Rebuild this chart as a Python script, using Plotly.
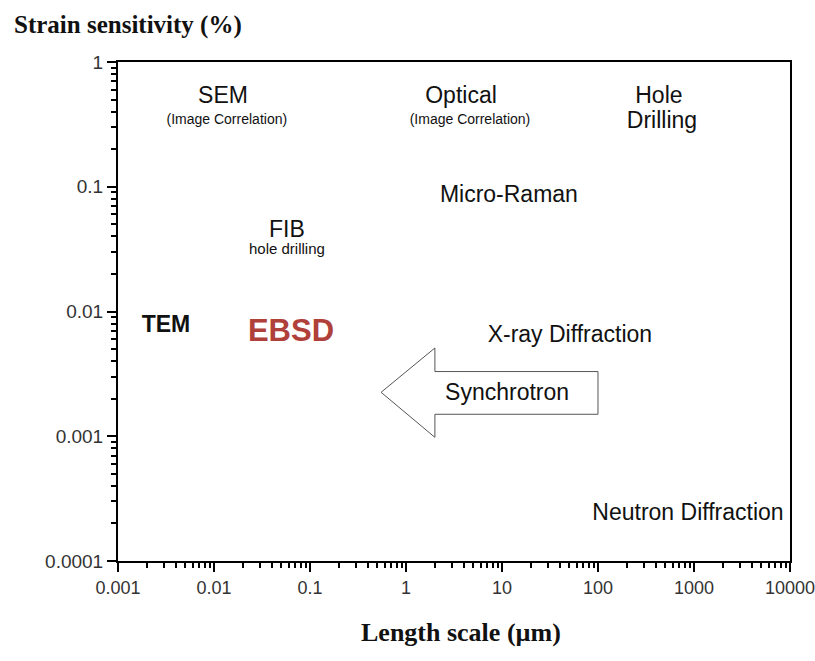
import plotly.graph_objects as go

# Measurement techniques placed by length scale (µm) and strain sensitivity (%)
technique_labels = [
    "SEM", "(Image Correlation)",
    "Optical", "(Image Correlation)",
    "Hole", "Drilling",
    "Micro-Raman",
    "FIB", "hole drilling",
    "TEM", "EBSD",
    "X-ray Diffraction",
    "Synchrotron",
    "Neutron Diffraction",
]
length_scale_um = [0.0124, 0.0136, 3.74, 4.64, 431, 464, 11.8, 0.0575, 0.0575,
                   0.00316, 0.0634, 51, 11.3, 866]
strain_sensitivity = [0.525, 0.337, 0.525, 0.337, 0.525, 0.331, 0.0832, 0.0437, 0.0308,
                      0.00759, 0.00667, 0.0063, 0.00217, 0.000238]
label_sizes = [23, 14, 23, 14, 23, 23, 23, 23, 15, 23, 31, 23, 23, 23]
label_colors = ["#111111"] * 10 + ["#b0403a"] + ["#111111"] * 3
label_weights = ["normal"] * 9 + ["bold", "bold"] + ["normal"] * 3

# Synchrotron arrow outline (pointing toward smaller length scales)
arrow_x = [0.55, 2.0, 2.0, 100, 100, 2.0, 2.0, 0.55]
arrow_y = [0.00225, 0.0051, 0.0033, 0.0033, 0.0015, 0.0015, 0.00098, 0.00225]

x_tick_vals = [0.001, 0.01, 0.1, 1, 10, 100, 1000, 10000]
x_tick_text = ["0.001", "0.01", "0.1", "1", "10", "100", "1000", "10000"]
y_tick_vals = [0.0001, 0.001, 0.01, 0.1, 1]
y_tick_text = ["0.0001", "0.001", "0.01", "0.1", "1"]


def minor_positions(decades):
    # 2..9 subdivisions inside each decade
    return [d * k for d in decades[:-1] for k in range(2, 10)]


fig = go.Figure()

fig.add_trace(go.Scatter(
    x=arrow_x, y=arrow_y, mode="lines", fill="toself",
    fillcolor="white", line=dict(color="#555555", width=1),
    hoverinfo="skip", showlegend=False,
))

fig.add_trace(go.Scatter(
    x=length_scale_um, y=strain_sensitivity, mode="text",
    text=technique_labels, textposition="middle center",
    textfont=dict(size=label_sizes, color=label_colors,
                  family="Liberation Sans", weight=label_weights),
    hoverinfo="skip", showlegend=False,
))

axis_common = dict(
    type="log",
    showline=True, linecolor="black", linewidth=2, mirror=True,
    ticks="outside", ticklen=9, tickwidth=2, tickcolor="black",
    showgrid=False, zeroline=False, ticklabeloverflow="allow",
    automargin=False,
)
minor_common = dict(ticks="outside", ticklen=5, tickwidth=2, tickcolor="black",
                    showgrid=False, tickmode="array")

fig.update_xaxes(
    **axis_common,
    range=[-3.0002, 4.0002],
    tickmode="array", tickvals=x_tick_vals, ticktext=x_tick_text,
    tickfont=dict(family="Liberation Sans", size=18, color="#333333"),
    minor=dict(**minor_common, tickvals=minor_positions(x_tick_vals)),
)
fig.update_yaxes(
    **axis_common,
    range=[-4.0002, 0.0002],
    tickmode="array", tickvals=y_tick_vals, ticktext=y_tick_text,
    tickfont=dict(family="Liberation Sans", size=19, color="#333333"),
    minor=dict(**minor_common, tickvals=minor_positions(y_tick_vals)),
)

fig.add_annotation(
    text="<b>Strain sensitivity (%)</b>", xref="paper", yref="paper",
    x=-0.158, y=1.074, xanchor="left", yanchor="middle", showarrow=False,
    font=dict(family="Liberation Serif", size=25, color="#111111"),
)
fig.add_annotation(
    text="<b>Length scale (µm)</b>", xref="paper", yref="paper",
    x=0.51, y=-0.144, xanchor="center", yanchor="middle", showarrow=False,
    font=dict(family="Liberation Serif", size=26, color="#111111"),
)

fig.update_layout(
    width=815, height=661,
    margin=dict(l=118, r=25, t=62, b=100),
    paper_bgcolor="white", plot_bgcolor="white",
)

fig.write_html("out.html")
